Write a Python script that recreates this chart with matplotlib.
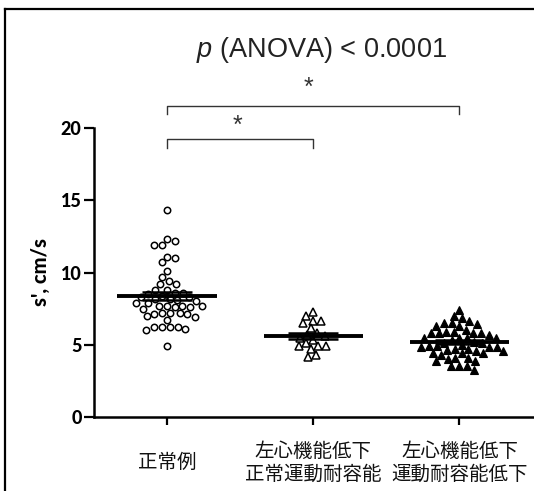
import numpy as np
import matplotlib
matplotlib.use("Agg")
import matplotlib.pyplot as plt
from matplotlib.lines import Line2D

# s' values (cm/s)
normal = [14.3,
          12.3, 11.9, 11.9, 12.2,
          11.0, 10.7, 11.1,
          10.1, 9.7,
          9.2, 9.4, 9.2,
          8.6, 8.8, 8.8, 8.6,
          8.5, 8.3, 8.2, 8.3, 8.4, 8.2, 8.0, 8.1,
          7.9, 7.7, 7.6, 7.7, 7.7, 7.5, 7.6, 7.7, 7.9,
          7.2, 7.1, 7.0, 6.7, 6.9, 7.1, 7.2, 7.2,
          6.2, 6.2, 6.1, 6.0, 6.2, 6.2,
          4.9]
lvd_normal_ex = [7.24, 6.67, 6.97, 6.5, 6.67, 6.16, 5.3, 5.12, 4.88, 4.88,
                 4.7, 4.88, 4.15, 4.3, 5.6, 5.8, 5.7, 5.5]
lvd_low_ex = [7.4,
              6.85, 7.0,
              6.5, 6.65, 6.5, 6.3, 6.45, 6.3,
              5.9, 6.05, 5.9,
              5.8, 5.8, 5.7, 5.8, 5.8,
              5.5, 5.5, 5.45, 5.5, 5.3, 5.15, 5.2, 5.1,
              5.0, 4.85, 4.7, 4.85, 4.65, 4.55, 4.6, 4.7, 4.85, 4.9, 4.9,
              4.45, 4.3, 4.4, 4.45,
              4.05, 3.9, 3.9, 4.0, 4.1,
              3.5, 3.25, 3.5, 3.55]
groups = [normal, lvd_normal_ex, lvd_low_ex]
labels = ["正常例", "左心機能低下\n正常運動耐容能", "左心機能低下\n運動耐容能低下"]
title = "$\\mathit{p}$ (ANOVA) < 0.0001"

plt.rcParams["mathtext.fontset"] = "custom"
plt.rcParams["mathtext.it"] = "Liberation Sans:italic"
plt.rcParams["mathtext.rm"] = "Liberation Sans"

W, H = 534, 491
fig = plt.figure(figsize=(W / 100, H / 100), dpi=100)
ax = fig.add_axes([94 / W, 74 / H, 1 - 94 / W, 289 / H])
ax.set_xlim(-0.5, 2.51)
ax.set_ylim(0, 20)

# pixel scale of the data units, used for the swarm layout
xs = ax.bbox.width / 3.01
ys = ax.bbox.height / 20.0


def swarm(vals, d=7.6):
    placed = []
    offs = np.zeros(len(vals))
    order = np.argsort(vals)[::-1]
    for n, i in enumerate(order):
        y = vals[i] * ys
        for k in range(0, 120):
            signs = (1, -1) if n % 2 == 0 else (-1, 1)
            ok = None
            for s in signs:
                x = s * k * 0.5
                if all((x - px) ** 2 + (y - py) ** 2 >= d * d for px, py in placed):
                    ok = x
                    break
            if ok is not None:
                placed.append((ok, y))
                offs[i] = ok / xs
                break
    return offs


styles = [dict(marker="o", mfc="white", mec="black", ms=4.6, mew=1.1),
          dict(marker="^", mfc="white", mec="black", ms=5.2, mew=1.1),
          dict(marker="^", mfc="black", mec="black", ms=5.2, mew=0.8)]

for pos, (vals, st) in enumerate(zip(groups, styles)):
    vals = np.array(vals)
    x = pos + swarm(vals)
    ax.plot(x, vals, ls="none", zorder=2, **st)
    m = vals.mean()
    sem = vals.std(ddof=1) / np.sqrt(len(vals))
    ax.hlines(m, pos - 0.34, pos + 0.34, color="black", lw=2.8, zorder=3)
    ax.hlines([m - sem, m + sem], pos - 0.17, pos + 0.17, color="black", lw=1.8, zorder=3)
    ax.vlines(pos, m - sem, m + sem, color="black", lw=1.8, zorder=3)

# significance brackets
bc = "#333333"
ax.plot([0, 0, 1, 1], [18.6, 19.25, 19.25, 18.6], color=bc, lw=1.0, clip_on=False)
ax.plot([0, 0, 2, 2], [20.95, 21.55, 21.55, 20.95], color=bc, lw=1.0, clip_on=False)
ax.text(0.48, 20.15, "*", ha="center", va="center", fontsize=18, color=bc,
        family="Liberation Sans")
ax.text(0.97, 22.75, "*", ha="center", va="center", fontsize=18, color=bc,
        family="Liberation Sans")

for s in ["top", "right"]:
    ax.spines[s].set_visible(False)
for s in ["left", "bottom"]:
    ax.spines[s].set_linewidth(1.8)

ax.set_yticks([0, 5, 10, 15, 20])
ax.tick_params(axis="y", direction="out", length=7, width=1.6, pad=2,
               labelsize=13)
for t in ax.get_yticklabels():
    t.set_fontfamily("Lato")
    t.set_fontweight("black")
ax.set_ylabel("s', cm/s", fontsize=14.5, fontweight="black", family="Lato", labelpad=8)

ax.set_xticks(range(3))
ax.set_xticklabels(labels, family=["Noto Sans CJK JP", "DejaVu Sans"], fontsize=14,
                   va="center", linespacing=1.15, color="#111111")
ax.tick_params(axis="x", direction="out", length=6, width=1.6, pad=27)

fig.text(321 / W, 1 - 50 / H, title, ha="center", va="center", fontsize=19.5,
         family="Liberation Sans", color="#222222")

# frame lines at left and top of the picture
fig.add_artist(Line2D([5 / W, 5 / W], [0, 1 - 9 / H], color="black", lw=1.6,
                      transform=fig.transFigure))
fig.add_artist(Line2D([5 / W, 1], [1 - 9 / H, 1 - 9 / H], color="black", lw=1.6,
                      transform=fig.transFigure))

fig.savefig("out.png", dpi=100)
